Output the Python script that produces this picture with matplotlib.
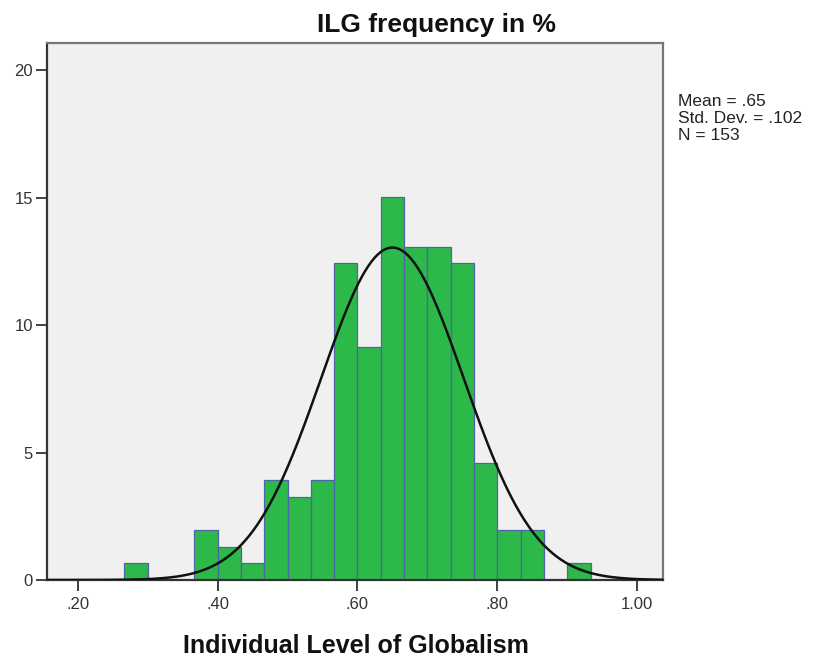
import numpy as np
import matplotlib
matplotlib.use("Agg")
import matplotlib.pyplot as plt

# ---- data ----
bin_width = 1 / 30
bin_start_index = 8            # first bin starts at 8/30
counts = [1, 0, 0, 3, 2, 1, 6, 5, 6, 19, 14, 23, 20, 20, 19, 7, 3, 3, 0, 1]
n_total = 153
mean_val = 0.65
sd_val = 0.102
x_ticks = [0.20, 0.40, 0.60, 0.80, 1.00]
x_tick_labels = [".20", ".40", ".60", ".80", "1.00"]
y_ticks = [0, 5, 10, 15, 20]
title = "ILG frequency in %"
x_label = "Individual Level of Globalism"
stats_text = "Mean = .65\nStd. Dev. = .102\nN = 153"

plt.rcParams['font.family'] = ['Liberation Sans', 'DejaVu Sans']

W, H = 814, 662
fig = plt.figure(figsize=(W / 100, H / 100), dpi=100)
fig.patch.set_facecolor("white")
ax = fig.add_axes([47/W, 1 - 580/H, (663-47)/W, (580-43)/H])
ax.set_facecolor("#F0F0F0")

edges = [(bin_start_index + i) * bin_width for i in range(len(counts) + 1)]
pct = [c / n_total * 100 for c in counts]
ax.bar(edges[:-1], pct, width=bin_width, align="edge",
       color="#2DB84A", edgecolor="#4F64A8", linewidth=0.9, zorder=2)

xs = np.linspace(0.156, 1.037, 400)
ys = 100 * bin_width * np.exp(-0.5 * ((xs - mean_val) / sd_val) ** 2) / (sd_val * np.sqrt(2 * np.pi))
ax.plot(xs, ys, color="#111111", linewidth=1.8, zorder=3)

ax.set_xlim(0.156, 1.037)
ax.set_ylim(0, 21.06)
ax.set_xticks(x_ticks)
ax.set_xticklabels(x_tick_labels)
ax.set_yticks(y_ticks)
ax.tick_params(direction="out", length=8, width=1.3, color="#333333",
               labelsize=12, labelcolor="#333333")
ax.tick_params(axis="x", pad=4)
ax.tick_params(axis="y", pad=2)

for side in ["left", "bottom"]:
    ax.spines[side].set_color("#333333")
    ax.spines[side].set_linewidth(1.6)
for side in ["top", "right"]:
    ax.spines[side].set_color("#777777")
    ax.spines[side].set_linewidth(1.6)

fig.text(436.5/W, 1 - 32/H, title, ha="center", va="baseline",
         fontsize=19, fontweight="bold", color="#111111")
fig.text(355.5/W, 1 - 653/H, x_label, ha="center", va="baseline",
         fontsize=18, fontweight="bold", color="#111111")
fig.text(678/W, 1 - 94/H, stats_text, ha="left", va="top",
         fontsize=12.5, color="#222222", linespacing=1.15)

fig.savefig("out.png", dpi=100)
